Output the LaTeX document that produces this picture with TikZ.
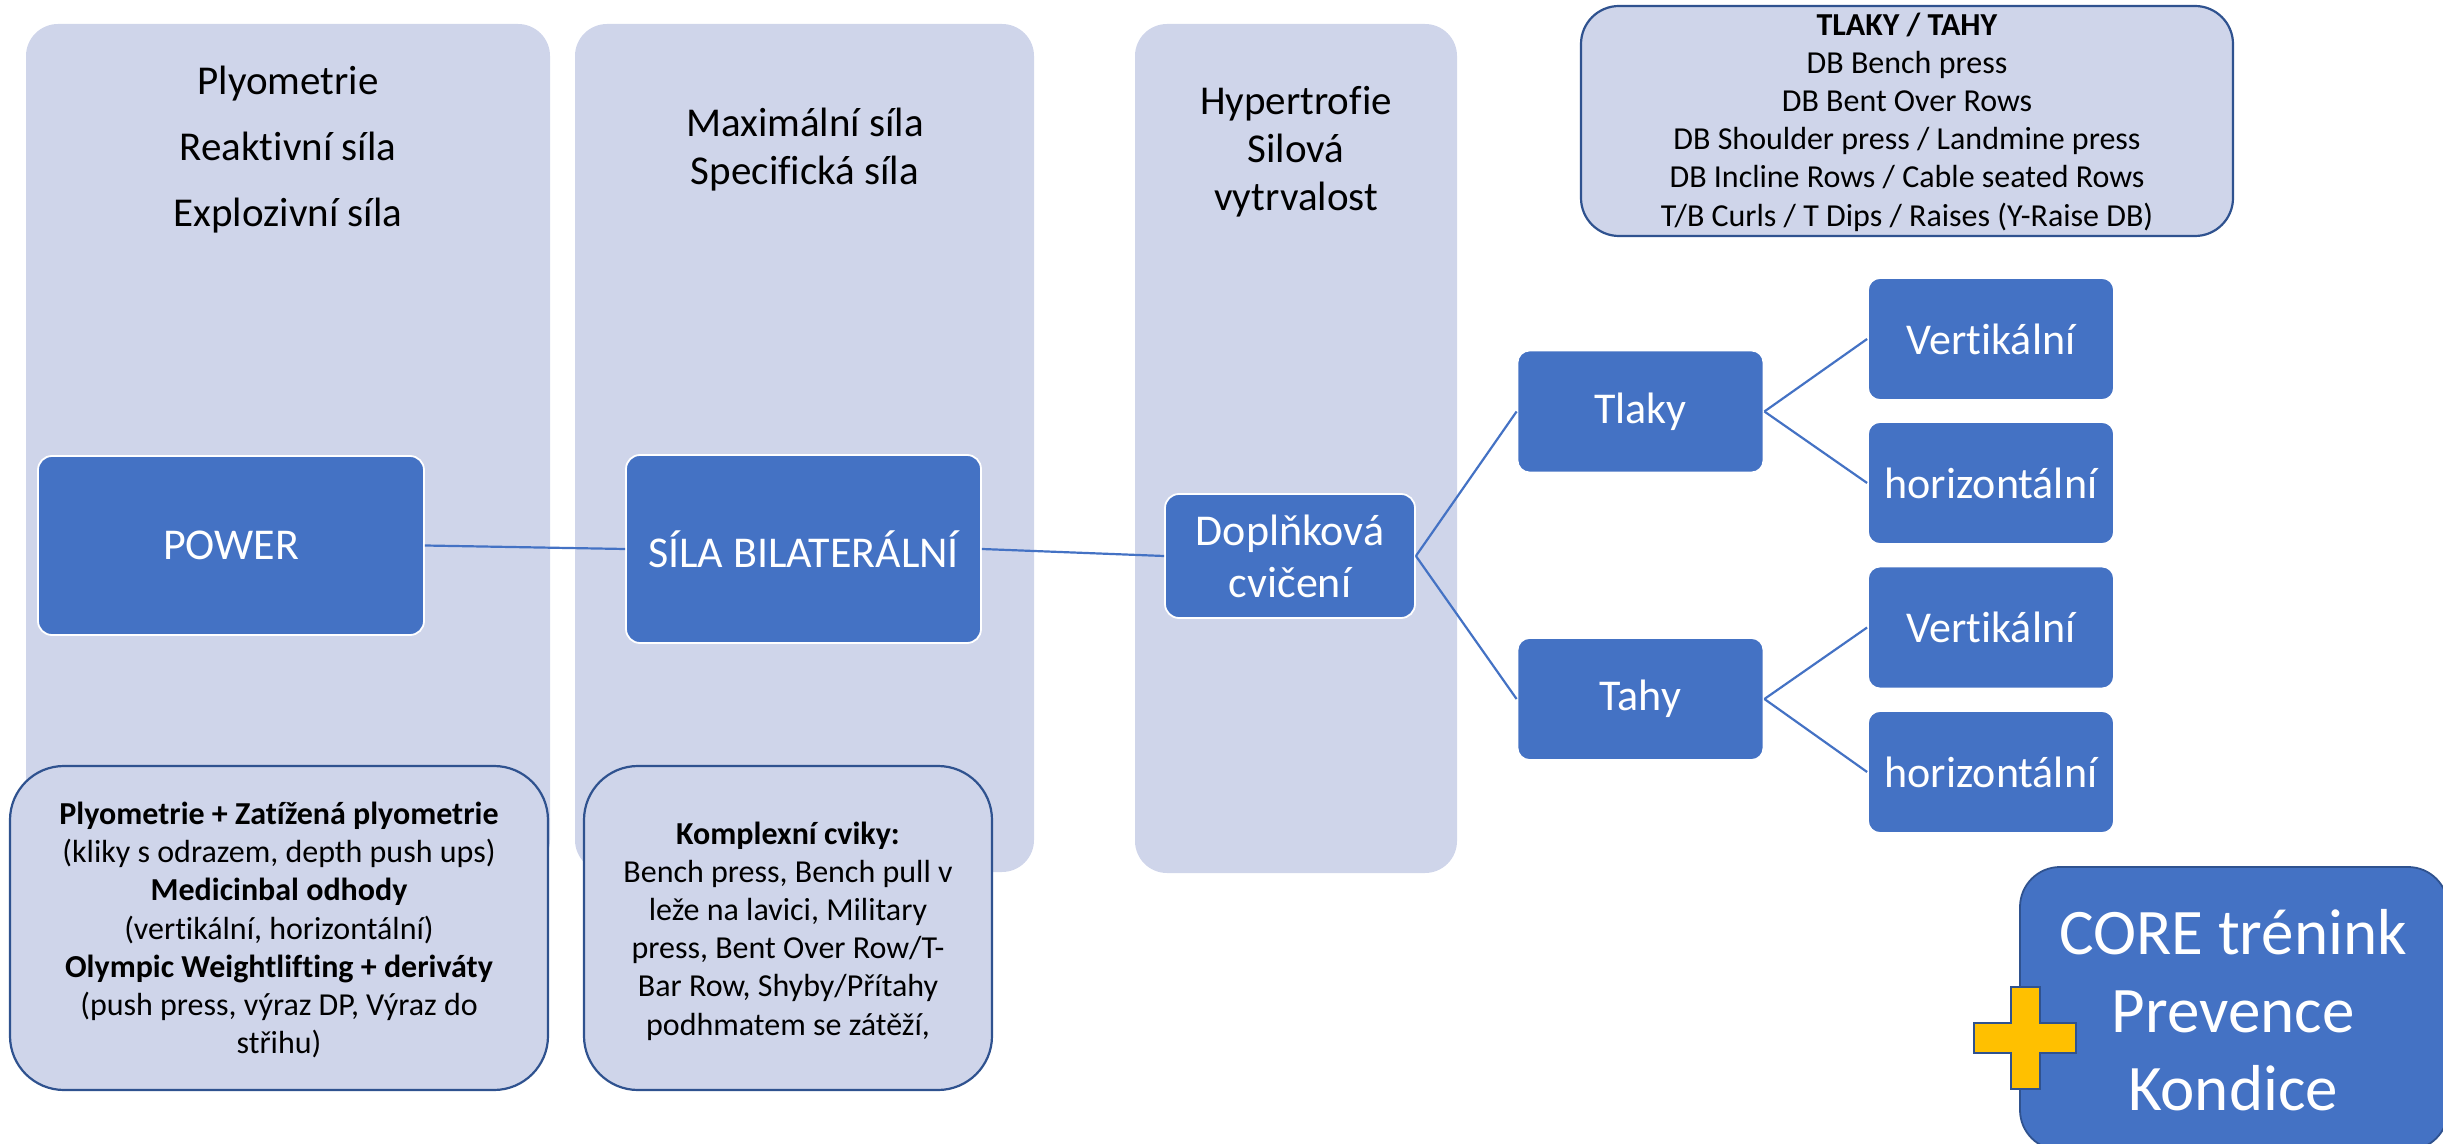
\documentclass[tikz,border=0pt]{standalone}
\usepackage{fontspec}
\setmainfont{Carlito}[Ligatures={NoCommon,NoContextual,NoRare}]
\definecolor{light}{HTML}{CFD5EA}
\definecolor{mblue}{HTML}{4472C4}
\definecolor{dblue}{HTML}{2F528F}
\definecolor{gold}{HTML}{FFC000}
\begin{document}
\begin{tikzpicture}[x=0.5pt,y=-0.5pt,
  colbox/.style={fill=light,draw=none,rounded corners=16pt},
  bluebox/.style={fill=mblue,draw=white,line width=0.9pt,rounded corners=7pt,text=white,align=center,inner sep=0pt,font=\fontsize{22}{26}\selectfont},
  smallbox/.style={fill=mblue,draw=white,line width=0.9pt,rounded corners=6pt,text=white,align=center,inner sep=0pt,font=\fontsize{22}{26}\selectfont,minimum width=123pt,minimum height=61pt},
  infobox/.style={fill=light,draw=dblue,line width=1.1pt},
  infotext/.style={align=center,inner sep=0pt,font=\fontsize{16}{19.1}\selectfont},
  conn/.style={draw=mblue,line width=1.1pt}]
\useasboundingbox (0,0) rectangle (2443,1144);
% columns
\draw[colbox] (26,24) rectangle (550,872);
\draw[colbox] (575,24) rectangle (1034,872);
\draw[colbox] (1135,24) rectangle (1457,873);
\node[infotext,font=\fontsize{20.5}{33}\selectfont] (h1) at (288,150) {Plyometrie\\Reaktivní síla\\Explozivní síla};
\node[infotext,font=\fontsize{20.5}{24}\selectfont] (h2) at (805,150) {Maximální síla\\Specifická síla};
\node[infotext,font=\fontsize{20.5}{24}\selectfont] (h3) at (1296,152) {Hypertrofie\\Silová\\vytrvalost};
% main boxes
\node[bluebox,minimum width=193pt,minimum height=89.5pt] (power) at (231,545.5) {POWER};
\node[bluebox,minimum width=177.5pt,minimum height=94pt] (sila) at (803.5,549) {SÍLA BILATERÁLNÍ};
\node[bluebox,minimum width=125pt,minimum height=62pt] (dopl) at (1290,556) {Doplňková\\cvičení};
\node[smallbox] (tlaky) at (1640.5,411.5) {Tlaky};
\node[smallbox] (tahy) at (1640.5,699) {Tahy};
\node[smallbox] (v1) at (1991,339) {Vertikální};
\node[smallbox] (o1) at (1991,483) {horizontální};
\node[smallbox] (v2) at (1991,627.5) {Vertikální};
\node[smallbox] (o2) at (1991,772) {horizontální};
% connectors
\draw[conn] (power.east) -- (sila.west);
\draw[conn] (sila.east) -- (dopl.west);
\draw[conn] (dopl.east) -- (tlaky.west);
\draw[conn] (dopl.east) -- (tahy.west);
\draw[conn] (tlaky.east) -- (v1.west);
\draw[conn] (tlaky.east) -- (o1.west);
\draw[conn] (tahy.east) -- (v2.west);
\draw[conn] (tahy.east) -- (o2.west);
% info boxes
\draw[infobox,rounded corners=27pt] (10,766) rectangle (548,1090);
\node[infotext] (t1) at (279,930) {\textbf{Plyometrie + Zatížená plyometrie}\\(kliky s odrazem, depth push ups)\\\textbf{Medicinbal odhody}\\(vertikální, horizontální)\\\textbf{Olympic Weightlifting + deriváty}\\(push press, výraz DP, Výraz do\\střihu)};
\draw[infobox,rounded corners=27pt] (584,766) rectangle (992,1090);
\node[infotext] (t2) at (788,931) {\textbf{Komplexní cviky:}\\Bench press, Bench pull v\\leže na lavici, Military\\press, Bent Over Row/T-\\Bar Row, Shyby/Přítahy\\podhmatem se zátěží,};
\draw[infobox,rounded corners=19pt] (1581,6) rectangle (2233,236);
\node[infotext] (t3) at (1907,122) {\textbf{TLAKY / TAHY}\\DB Bench press\\DB Bent Over Rows\\DB Shoulder press / Landmine press\\DB Incline Rows / Cable seated Rows\\T/B Curls / T Dips / Raises (Y-Raise DB)};
% core box
\draw[fill=mblue,draw=dblue,line width=0.9pt,rounded corners=20pt] (2020,867) rectangle (2448,1150);
\node[align=center,inner sep=0pt,text=white,font=\fontsize{32.5}{39}\selectfont] (core) at (2233,1010) {CORE trénink\\Prevence\\Kondice};
\draw[fill=gold,draw=dblue,line width=0.8pt] (2011,987) -- (2040,987) -- (2040,1023) -- (2076,1023) -- (2076,1053) -- (2040,1053) -- (2040,1089) -- (2011,1089) -- (2011,1053) -- (1974,1053) -- (1974,1023) -- (2011,1023) -- cycle;
\end{tikzpicture}
\end{document}
